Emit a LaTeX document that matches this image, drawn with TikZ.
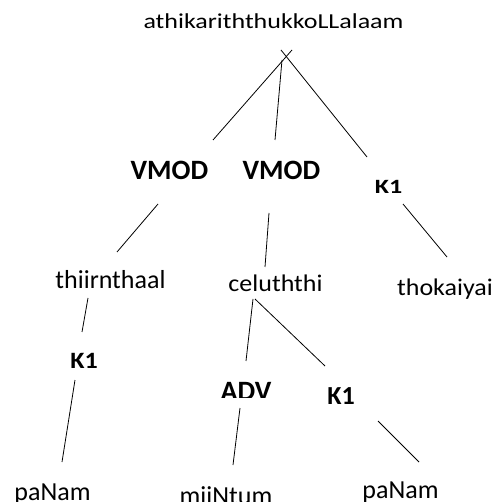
\documentclass[tikz,border=0pt]{standalone}
\usepackage{fontspec}
\setmainfont{Carlito}
\begin{document}
\begin{tikzpicture}[x=1pt,y=-1pt,
  word/.style={font=\fontsize{26}{30}\selectfont, anchor=base, inner sep=0pt},
  rel/.style={font=\fontsize{28}{32}\selectfont\bfseries, anchor=base, inner sep=0pt},
  relk/.style={font=\fontsize{26}{30}\selectfont\bfseries, anchor=base, inner sep=0pt},
  edge/.style={line width=0.8pt, black}]
\useasboundingbox (0,0) rectangle (503,502);
% words
\node[word, yscale=0.82] (root) at (273.5,28.5) {athikariththukkoLLalaam};
\node[rel] (vmodA) at (169.5,180) {VMOD};
\node[rel] (vmodB) at (281.5,180) {VMOD};
\node[relk, yscale=0.78] (kA) at (388.5,193.5) {K1};
\node[word] (thiir) at (110.5,288.5) {thiirnthaal};
\node[word, yscale=0.92] (celu) at (275.5,292) {celuththi};
\node[word, yscale=0.92] (thok) at (445,296) {thokaiyai};
\node[relk, yscale=0.9] (kB) at (84,368) {K1};
\begin{scope}
  \clip (200,370) rectangle (290,397);
  \node[rel] (adv) at (246,400) {ADV};
\end{scope}
\node[relk] (kC) at (341,404) {K1};
\node[word] (panA) at (52.5,500) {paNam};
\node[word] (miin) at (226,504) {miiNtum};
\node[word] (panB) at (400.5,498) {paNam};
% connector ends
\coordinate (rootA) at (292,50);   \coordinate (vmodAt) at (213,140);
\coordinate (rootB) at (282,60);   \coordinate (vmodBt) at (275,140);
\coordinate (rootC) at (281,50);   \coordinate (kAt) at (367,157);
\coordinate (vmodAb) at (158,204); \coordinate (thiirt) at (117,252);
\coordinate (vmodBb) at (269,213); \coordinate (celut) at (265,267);
\coordinate (kAb) at (403,204);    \coordinate (thokt) at (447,257);
\coordinate (thiirb) at (88,298);  \coordinate (kBt) at (82,332);
\coordinate (celubA) at (253,299); \coordinate (advt) at (246,361);
\coordinate (celubB) at (255,299); \coordinate (kCt) at (325,366);
\coordinate (kBb) at (75,380);     \coordinate (panAt) at (62,462);
\coordinate (advb) at (240,408);   \coordinate (miint) at (233,465);
\coordinate (kCb) at (378,421);    \coordinate (panBt) at (419,462);
% connectors
\draw[edge] (rootA) -- (vmodAt);
\draw[edge] (rootB) -- (vmodBt);
\draw[edge] (rootC) -- (kAt);
\draw[edge] (vmodAb) -- (thiirt);
\draw[edge] (vmodBb) -- (celut);
\draw[edge] (kAb) -- (thokt);
\draw[edge] (thiirb) -- (kBt);
\draw[edge] (celubA) -- (advt);
\draw[edge] (celubB) -- (kCt);
\draw[edge] (kBb) -- (panAt);
\draw[edge] (advb) -- (miint);
\draw[edge] (kCb) -- (panBt);
\end{tikzpicture}
\end{document}
